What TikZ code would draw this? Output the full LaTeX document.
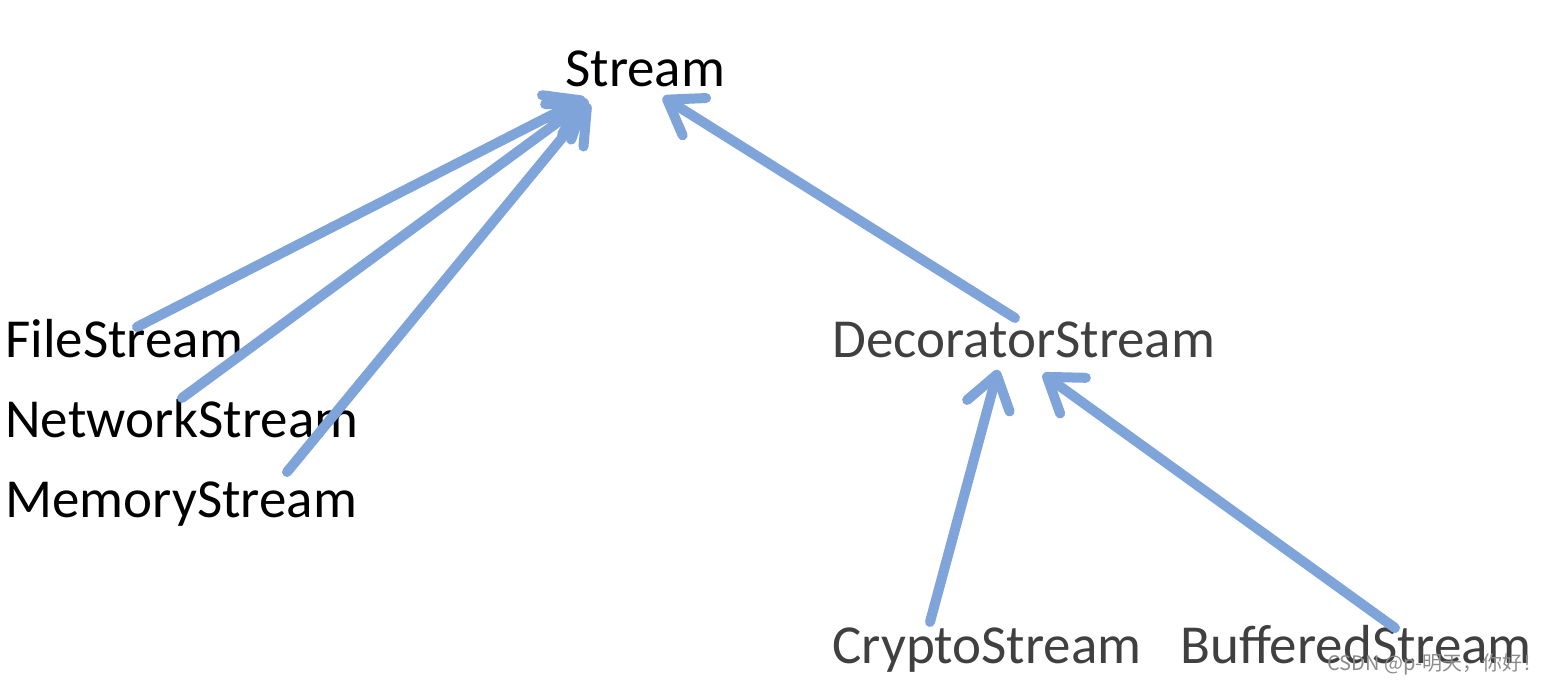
\documentclass[tikz,border=0pt]{standalone}
\usepackage{fontspec}
\setmainfont{Carlito}
\newfontfamily\cjkfont{Noto Sans CJK SC}
\usetikzlibrary{arrows.meta,calc}
\definecolor{arrblue}{RGB}{126,164,218}
\definecolor{darkgraytext}{RGB}{64,64,64}
\tikzset{
  lbl/.style={anchor=base west, inner sep=0pt, font=\fontsize{27.5}{30}\selectfont},
  lblgray/.style={lbl, text=darkgraytext},
  arr/.style={draw=arrblue, line width=5pt, line cap=round, line join=round,
    -{Straight Barb[length=16pt, width=22pt, round]}},
  wm/.style={anchor=base west, inner sep=0pt, text=black!45, font=\cjkfont\fontsize{10}{12}\selectfont}
}
\begin{document}
\begin{tikzpicture}[x=0.5pt,y=-0.5pt]
\fill[white] (0,0) rectangle (1542,683);
\useasboundingbox (0,0) rectangle (1542,683);
\node[lbl] (stream) at (565,87) {Stream};
\node[lbl] (file) at (5,358) {FileStream};
\node[lbl] (net) at (5,438) {NetworkStream};
\node[lbl] (mem) at (5,518) {MemoryStream};
\node[lblgray] (deco) at (832,358) {DecoratorStream};
\node[lblgray] (crypto) at (832,663) {CryptoStream};
\node[lblgray] (buff) at (1180,663) {BufferedStream};
\draw[arr] ($(file.base west)+(132,-31)$) -- ($(stream.base west)+(20,11)$);
\draw[arr] ($(net.base west)+(177,-40)$) -- ($(stream.base west)+(23,13)$);
\draw[arr] ($(mem.base west)+(282,-46)$) -- ($(stream.base west)+(25,17)$);
\draw[arr] ($(deco.base west)+(183,-40)$) -- ($(stream.base west)+(98,10)$);
\draw[arr] ($(crypto.base west)+(98,-41)$) -- ($(deco.base west)+(166,12)$);
\draw[arr] ($(buff.base west)+(215,-35)$) -- ($(deco.base west)+(211,16)$);
\node[wm] (mark) at (1327,670) {CSDN @p-明天，你好！};
\end{tikzpicture}
\end{document}
